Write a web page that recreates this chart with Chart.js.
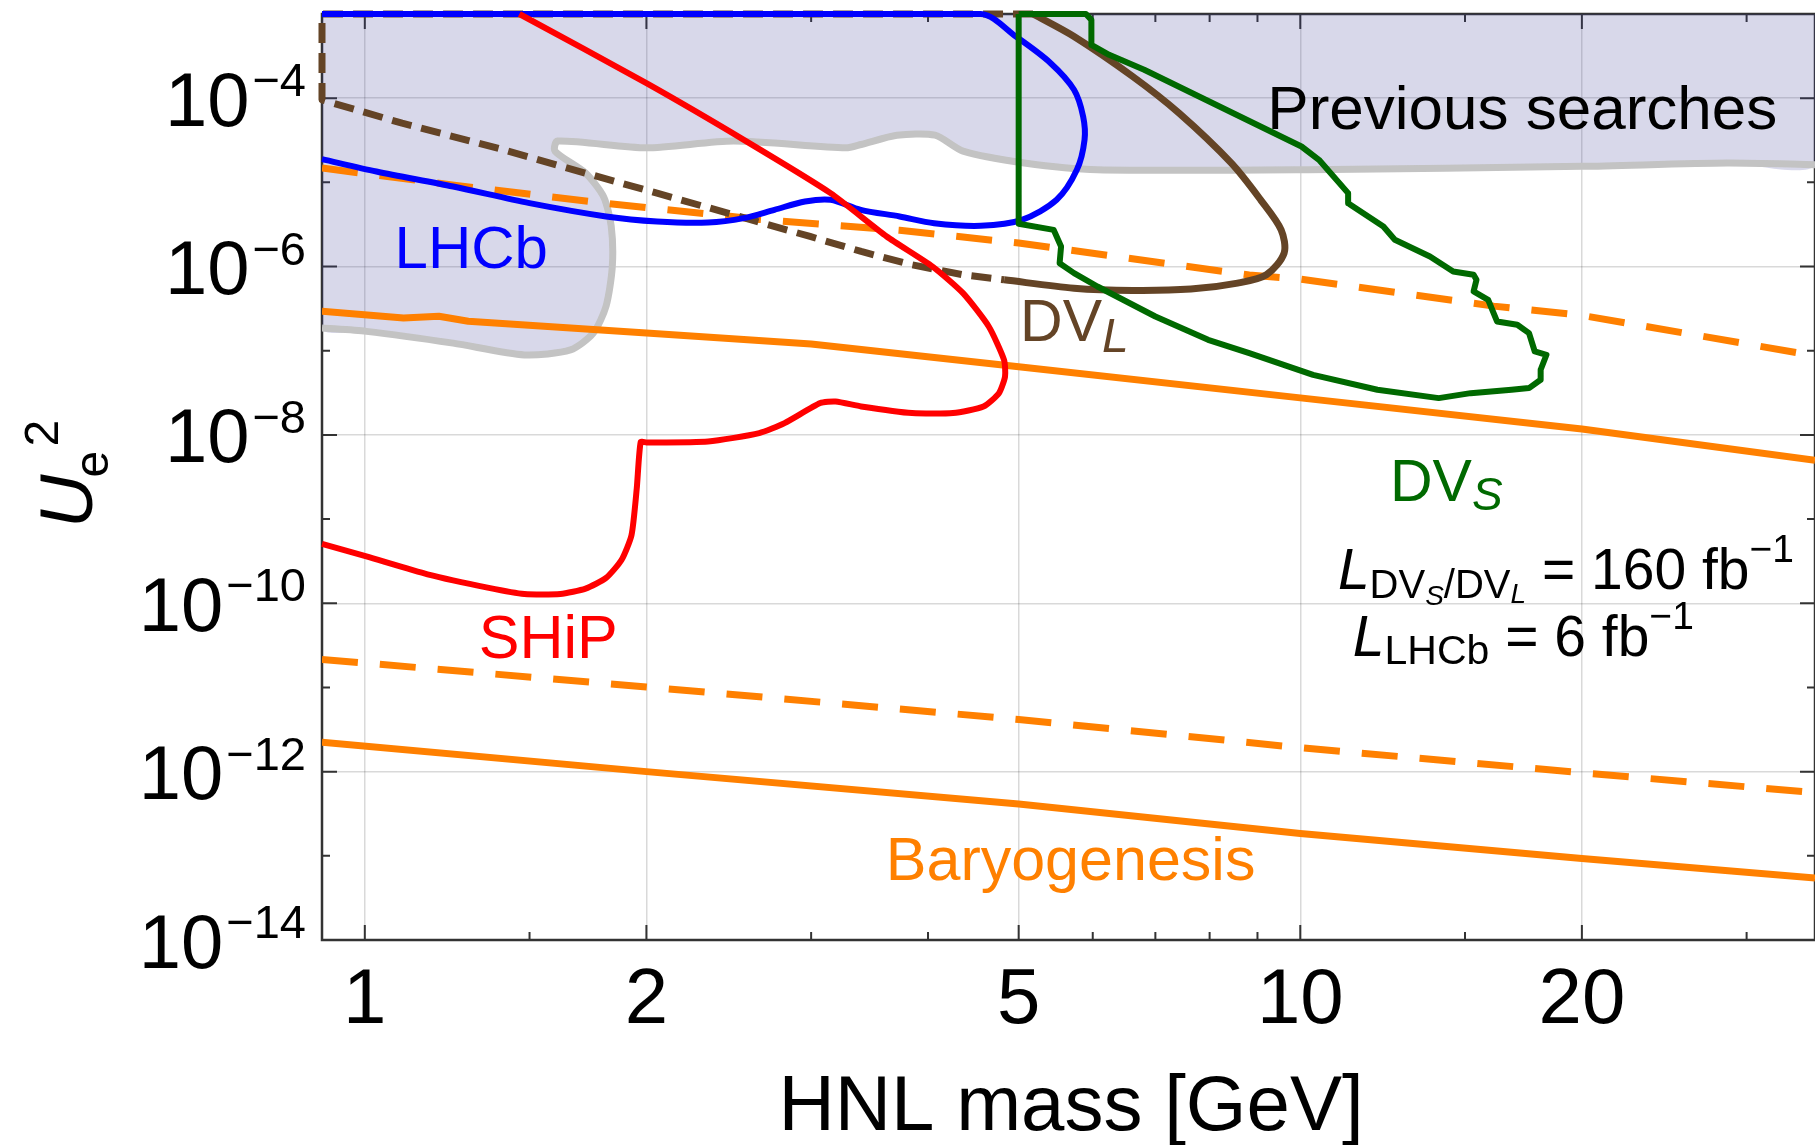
<!DOCTYPE html>
<html>
<head>
<meta charset="utf-8">
<title>HNL sensitivity</title>
<script src="https://cdn.jsdelivr.net/npm/chart.js@4.4.1/dist/chart.umd.min.js"></script>
<style>
  html, body { margin: 0; padding: 0; background: #fff; }
  #wrap { width: 1815px; height: 1145px; }
</style>
</head>
<body>
<div id="wrap"><canvas id="chart" width="1815" height="1145"></canvas></div>
<script>
// Axis ranges and ticks
const xMin = 0.9, xMax = 35.5;
const yMinExp = -14, yMaxExp = -3;
const xTickValues = [1, 1.5, 2, 3, 4, 5, 6, 7, 8, 9, 10, 15, 20, 30];
const xMajorValues = [1, 2, 5, 10, 20];
const xTickLabels = ['1', '2', '5', '10', '20'];
const yTickExps = [-14, -13, -12, -11, -10, -9, -8, -7, -6, -5, -4, -3];
const yLabelExps = [-14, -12, -10, -8, -6, -4];

// Data: HNL mass [GeV] and log10(U_e^2)
// Previous searches (lower boundary of excluded region)
const prevM    = [0.9, 1.004, 1.243, 1.481, 1.659, 1.755, 1.811, 1.839, 1.834, 1.80, 1.722, 1.597, 1.607, 2.0, 2.479, 3.267, 3.393, 3.705, 4.07, 4.36, 5.07, 6.07, 10.2, 20.0, 28.6, 35.5];
const prevLogU = [-6.73, -6.77, -6.91, -7.05, -6.99, -6.79, -6.47, -6.00, -5.52, -5.17, -4.89, -4.63, -4.51, -4.59, -4.51, -4.59, -4.55, -4.44, -4.44, -4.63, -4.77, -4.85, -4.85, -4.81, -4.77, -4.79];

// LHCb
const lhcbM    = [0.9, 4.555, 4.966, 5.41, 5.73, 5.86, 5.88, 5.77, 5.49, 5.04, 4.555, 4.06, 3.73, 3.39, 3.147, 2.955, 2.741, 2.542, 2.328, 2.053, 1.811, 1.5, 1.243, 1.029, 0.9];
const lhcbLogU = [-3.0, -3.0, -3.268, -3.584, -3.90, -4.218, -4.495, -4.851, -5.207, -5.445, -5.516, -5.485, -5.405, -5.326, -5.207, -5.227, -5.326, -5.425, -5.477, -5.465, -5.405, -5.247, -5.049, -4.871, -4.724];

// SHiP
const shipM    = [1.463, 2.0, 2.542, 3.147, 3.613, 4.045, 4.36, 4.645, 4.823, 4.835, 4.763, 4.585, 4.254, 3.846, 3.393, 3.186, 3.068, 2.81, 2.64, 2.328, 2.0, 1.972, 1.953, 1.928, 1.881, 1.811, 1.722, 1.618, 1.481, 1.357, 1.167, 1.004, 0.9];
const shipLogU = [-3.0, -3.822, -4.495, -5.128, -5.643, -6.0, -6.316, -6.712, -7.108, -7.306, -7.504, -7.662, -7.741, -7.741, -7.662, -7.603, -7.622, -7.86, -7.979, -8.078, -8.09, -8.085, -8.637, -9.19, -9.486, -9.699, -9.826, -9.89, -9.89, -9.817, -9.656, -9.444, -9.295];

// DV_S
const dvsM    = [5.0, 5.90, 5.98, 5.98, 6.247, 6.81, 10.03, 10.47, 11.25, 11.25, 12.27, 12.62, 13.76, 14.57, 15.32, 15.43, 15.32, 15.88, 16.23, 17.06, 17.56, 17.81, 18.33, 18.07, 18.07, 17.56, 16.82, 15.21, 14.06, 12.09, 10.32, 8.82, 7.97, 7.0, 6.07, 5.73, 5.53, 5.55, 5.45, 5.0, 5.0];
const dvsLogU = [-3.0, -3.0, -3.07, -3.367, -3.485, -3.663, -4.574, -4.732, -5.128, -5.247, -5.524, -5.682, -5.88, -6.059, -6.098, -6.158, -6.296, -6.395, -6.652, -6.692, -6.791, -7.009, -7.048, -7.226, -7.345, -7.444, -7.464, -7.504, -7.563, -7.464, -7.286, -7.028, -6.87, -6.593, -6.237, -6.078, -5.96, -5.762, -5.564, -5.492, -3.0];

// DV_L: dashed (upper-left) part and solid part
const dvlDashM    = [5.18, 0.9, 0.9, 1.096, 1.409, 1.722, 2.053, 2.479, 2.992, 3.393, 3.846, 4.36, 4.825];
const dvlDashLogU = [-3.0, -3.0, -4.02, -4.297, -4.614, -4.891, -5.128, -5.386, -5.643, -5.821, -5.979, -6.098, -6.158];
const dvlM    = [4.825, 5.73, 6.62, 7.64, 8.57, 9.2, 9.61, 9.54, 9.07, 8.44, 7.42, 6.62, 5.73, 5.18];
const dvlLogU = [-6.158, -6.257, -6.284, -6.268, -6.197, -6.098, -5.841, -5.564, -5.207, -4.772, -4.178, -3.743, -3.268, -3.0];

// Baryogenesis bands
const baryoUpDashM     = [0.9, 1.24, 1.81, 2.64, 3.73, 5.0, 8.82, 10.0, 16.1, 20.0, 35.5];
const baryoUpDashLogU  = [-4.83, -5.03, -5.25, -5.44, -5.57, -5.72, -6.1, -6.15, -6.47, -6.58, -7.06];
const baryoUpM         = [0.9, 1.1, 1.2, 1.29, 2.0, 3.0, 5.0, 10.0, 20.0, 35.5];
const baryoUpLogU      = [-6.53, -6.61, -6.59, -6.65, -6.79, -6.92, -7.19, -7.56, -7.93, -8.30];
const baryoLowDashM    = [0.9, 2.0, 5.0, 10.0, 20.0, 35.5];
const baryoLowDashLogU = [-10.667, -10.994, -11.38, -11.716, -12.013, -12.25];
const baryoLowM        = [0.9, 2.0, 5.0, 10.0, 20.0, 35.5];
const baryoLowLogU     = [-11.652, -12.0, -12.385, -12.735, -13.032, -13.265];

// Colours and fonts
const FONT = "'Liberation Sans', Arial, Helvetica, sans-serif";
const BLUE = 'rgb(0,0,255)';
const RED = 'rgb(255,0,0)';
const GREEN = 'rgb(0,105,0)';
const BROWN = 'rgb(100,68,38)';
const ORANGE = 'rgb(255,128,0)';
const GREY_LINE = 'rgb(195,195,195)';
const GREY_FILL = 'rgba(60,60,150,0.2)';
const AXIS_COLOR = '#333';
const GRID_COLOR = 'rgba(0,0,0,0.15)';

// Text annotations (anchored in data coordinates, left/baseline)
const annotations = [
    { m: 9.22, u: -4.364, color: 'black', parts: [{ text: 'Previous searches', size: 62 }] },
    { m: 1.076, u: -6.018, color: BLUE, parts: [{ text: 'LHCb', size: 60 }] },
    { m: 1.324, u: -10.645, color: RED, parts: [{ text: 'SHiP', size: 61 }] },
    { m: 5.017, u: -6.889, color: BROWN, parts: [{ text: 'DV', size: 59 }, { text: 'L', size: 48, italic: true, dy: 11 }] },
    { m: 12.47, u: -8.791, color: GREEN, parts: [{ text: 'DV', size: 59 }, { text: 'S', size: 46, italic: true, dy: 9 }] },
    { m: 10.97, u: -9.83, color: 'black', parts: [
        { text: 'L', size: 57, italic: true },
        { text: 'DV', size: 40, dy: 9 },
        { text: 'S', size: 28, italic: true, dy: 16 },
        { text: '/DV', size: 40, dy: 9 },
        { text: 'L', size: 28, italic: true, dy: 14 },
        { text: ' = 160 fb', size: 57 },
        { text: '\u22121', size: 39, dy: -27 }
    ] },
    { m: 11.38, u: -10.631, color: 'black', parts: [
        { text: 'L', size: 57, italic: true },
        { text: 'LHCb', size: 41, dy: 8 },
        { text: ' = 6 fb', size: 57 },
        { text: '\u22121', size: 39, dy: -27 }
    ] },
    { m: 3.605, u: -13.283, color: ORANGE, parts: [{ text: 'Baryogenesis', size: 61 }] }
];

function pts(ms, us) {
    return ms.map((m, i) => ({ x: m, y: Math.pow(10, us[i]) }));
}

function curve(label, data, color, width, extra) {
    return Object.assign({
        label: label,
        data: data,
        showLine: true,
        borderColor: color,
        backgroundColor: color,
        borderWidth: width,
        pointRadius: 0,
        pointHoverRadius: 0,
        fill: false,
        tension: 0,
        borderJoinStyle: 'round',
        clip: 0
    }, extra || {});
}

function drawRich(ctx, x, y, parts, color) {
    ctx.fillStyle = color;
    ctx.textAlign = 'left';
    ctx.textBaseline = 'alphabetic';
    let cx = x;
    parts.forEach(p => {
        ctx.font = (p.italic ? 'italic ' : '') + p.size + 'px ' + FONT;
        ctx.fillText(p.text, cx, y + (p.dy || 0));
        cx += ctx.measureText(p.text).width;
    });
}

const edgeClip = { left: 4, top: 6, right: 0, bottom: 0 };

const prevFill = [{ x: xMin, y: Math.pow(10, yMaxExp) }]
    .concat(pts(prevM, prevLogU))
    .concat([{ x: xMax, y: Math.pow(10, yMaxExp) }]);

const datasets = [
    curve('DV_S', pts(dvsM, dvsLogU), GREEN, 6, { clip: edgeClip }),
    curve('SHiP', pts(shipM, shipLogU), RED, 6, { tension: 0.2, clip: edgeClip }),
    curve('DV_L', pts(dvlM, dvlLogU), BROWN, 7, { tension: 0.3, clip: edgeClip }),
    curve('LHCb', pts(lhcbM, lhcbLogU), BLUE, 6, { tension: 0.3, clip: edgeClip }),
    curve('DV_L dashed', pts(dvlDashM, dvlDashLogU), BROWN, 7, { borderDash: [20, 10], clip: edgeClip }),
    curve('Baryogenesis upper dashed', pts(baryoUpDashM, baryoUpDashLogU), ORANGE, 7, { borderDash: [36, 22] }),
    curve('Baryogenesis upper', pts(baryoUpM, baryoUpLogU), ORANGE, 7),
    curve('Baryogenesis lower dashed', pts(baryoLowDashM, baryoLowDashLogU), ORANGE, 7, { borderDash: [36, 22] }),
    curve('Baryogenesis lower', pts(baryoLowM, baryoLowLogU), ORANGE, 7),
    curve('Previous searches border', pts(prevM, prevLogU), GREY_LINE, 7, { tension: 0.25 }),
    curve('Previous searches', prevFill, 'rgba(0,0,0,0)', 0, { fill: 'shape', backgroundColor: GREY_FILL, tension: 0.25 })
];

// Frame, inward ticks, tick labels, titles and annotations
const decorPlugin = {
    id: 'decor',
    beforeDatasetsDraw(chart) {
        const { ctx, chartArea: a, scales } = chart;
        const xs = scales.x, ys = scales.y;
        ctx.save();
        ctx.strokeStyle = AXIS_COLOR;
        ctx.lineWidth = 2;
        ctx.beginPath();
        xTickValues.forEach(v => {
            const px = xs.getPixelForValue(v);
            const len = xMajorValues.includes(v) ? 15 : 8;
            ctx.moveTo(px, a.bottom); ctx.lineTo(px, a.bottom - len);
            ctx.moveTo(px, a.top); ctx.lineTo(px, a.top + len);
        });
        yTickExps.forEach(e => {
            const py = ys.getPixelForValue(Math.pow(10, e));
            const len = e % 2 === 0 ? 15 : 8;
            ctx.moveTo(a.left, py); ctx.lineTo(a.left + len, py);
            ctx.moveTo(a.right, py); ctx.lineTo(a.right - len, py);
        });
        ctx.stroke();
        ctx.lineWidth = 2.5;
        ctx.strokeRect(a.left, a.top, a.right - a.left, a.bottom - a.top);
        ctx.restore();
    },
    afterDraw(chart) {
        const { ctx, chartArea: a, scales } = chart;
        const xs = scales.x, ys = scales.y;
        ctx.save();
        ctx.fillStyle = 'black';
        ctx.textBaseline = 'alphabetic';

        // y tick labels 10^-n
        const right = a.left - 16;
        yLabelExps.forEach(e => {
            const py = ys.getPixelForValue(Math.pow(10, e));
            const sup = '\u2212' + Math.abs(e);
            ctx.textAlign = 'left';
            ctx.font = '47px ' + FONT;
            const supW = ctx.measureText(sup).width;
            ctx.fillText(sup, right - supW, py - 2);
            ctx.font = '76px ' + FONT;
            const baseW = ctx.measureText('10').width;
            ctx.fillText('10', right - supW - 3 - baseW, py + 27.5);
        });

        // x tick labels
        ctx.textAlign = 'center';
        ctx.font = '78px ' + FONT;
        xMajorValues.forEach((v, i) => {
            ctx.fillText(xTickLabels[i], xs.getPixelForValue(v), a.bottom + 83);
        });

        // x title
        ctx.font = '78px ' + FONT;
        ctx.fillText('HNL mass [GeV]', 1071, 1130);

        // y title U_e^2
        ctx.save();
        ctx.translate(92, 528);
        ctx.rotate(-Math.PI / 2);
        ctx.textAlign = 'left';
        ctx.font = 'italic 74px ' + FONT;
        ctx.fillText('U', 0, 0);
        const uW = ctx.measureText('U').width;
        ctx.font = '48px ' + FONT;
        ctx.fillText('e', uW - 3, 16);
        ctx.fillText('2', uW + 28, -34);
        ctx.restore();

        // annotations
        annotations.forEach(t => {
            drawRich(ctx, xs.getPixelForValue(t.m), ys.getPixelForValue(Math.pow(10, t.u)), t.parts, t.color);
        });
        ctx.restore();
    }
};

new Chart(document.getElementById('chart'), {
    type: 'scatter',
    data: { datasets: datasets },
    options: {
        responsive: false,
        devicePixelRatio: 1,
        animation: false,
        layout: { padding: { top: 14, right: 0, bottom: 0, left: 0 } },
        plugins: {
            legend: { display: false },
            tooltip: { enabled: false }
        },
        elements: { point: { radius: 0 } },
        scales: {
            x: {
                type: 'logarithmic',
                position: 'bottom',
                min: xMin,
                max: xMax,
                afterBuildTicks: s => { s.ticks = xTickValues.map(v => ({ value: v })); },
                afterFit: s => { s.height = 205; },
                ticks: { display: false },
                border: { display: false },
                grid: {
                    drawTicks: false,
                    lineWidth: 1.5,
                    color: c => (c.tick && xMajorValues.includes(c.tick.value)) ? GRID_COLOR : 'rgba(0,0,0,0)'
                }
            },
            y: {
                type: 'logarithmic',
                position: 'left',
                min: Math.pow(10, yMinExp),
                max: Math.pow(10, yMaxExp),
                afterBuildTicks: s => { s.ticks = yTickExps.map(e => ({ value: Math.pow(10, e) })); },
                afterFit: s => { s.width = 322; },
                ticks: { display: false },
                border: { display: false },
                grid: {
                    drawTicks: false,
                    lineWidth: 1.5,
                    color: c => {
                        if (!c.tick) return 'rgba(0,0,0,0)';
                        const e = Math.round(Math.log10(c.tick.value));
                        return (e % 2 === 0 && e < -3) ? GRID_COLOR : 'rgba(0,0,0,0)';
                    }
                }
            }
        }
    },
    plugins: [decorPlugin]
});
</script>
</body>
</html>
